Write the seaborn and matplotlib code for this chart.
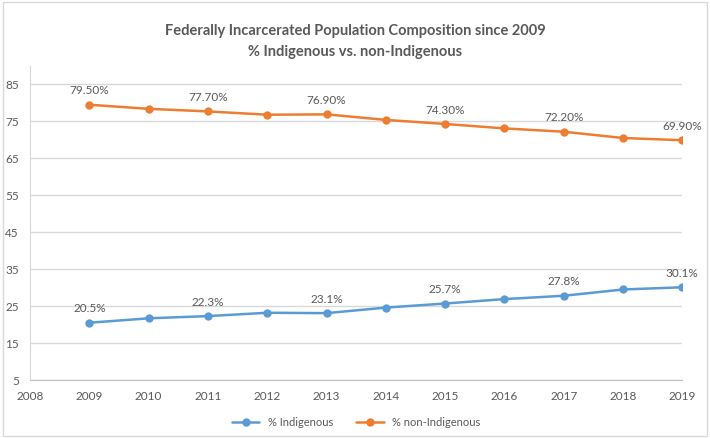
import matplotlib
matplotlib.use('Agg')
import pandas as pd
import matplotlib.pyplot as plt
import seaborn as sns
from matplotlib.patches import Rectangle

# Data
years = [2009, 2010, 2011, 2012, 2013, 2014, 2015, 2016, 2017, 2018, 2019]
indigenous = [20.5, 21.7, 22.3, 23.2, 23.1, 24.6, 25.7, 26.9, 27.8, 29.5, 30.1]
non_indigenous = [79.5, 78.4, 77.7, 76.8, 76.9, 75.4, 74.3, 73.1, 72.2, 70.5, 69.9]
labelled_years = [2009, 2011, 2013, 2015, 2017, 2019]
series_names = ['% Indigenous', '% non-Indigenous']
yticks = [5, 15, 25, 35, 45, 55, 65, 75, 85]

df = pd.concat([
    pd.DataFrame({'year': years, 'value': indigenous, 'series': series_names[0]}),
    pd.DataFrame({'year': years, 'value': non_indigenous, 'series': series_names[1]}),
])

sns.set_style('white')
plt.rcParams['font.family'] = ['Lato', 'DejaVu Sans']
text_col = '#595959'
palette = {series_names[0]: '#5B9BD5', series_names[1]: '#ED7D31'}

fig = plt.figure(figsize=(7.1, 4.38), dpi=100)
ax = fig.add_axes([0.0423, 0.1324, 0.9187, 0.717])

sns.lineplot(data=df, x='year', y='value', hue='series', palette=palette,
             marker='o', markersize=6, markeredgewidth=0, linewidth=1.8, ax=ax)

# data labels on every other year
for yr, v in zip(years, indigenous):
    if yr in labelled_years:
        ax.annotate(f'{v:.1f}%', (yr, v), xytext=(0, 6), textcoords='offset points',
                    ha='center', va='bottom', fontsize=8.5, color=text_col)
for yr, v in zip(years, non_indigenous):
    if yr in labelled_years:
        ax.annotate(f'{v:.2f}%', (yr, v), xytext=(0, 6), textcoords='offset points',
                    ha='center', va='bottom', fontsize=8.5, color=text_col)

ax.set_xlim(2008, 2019)
ax.set_ylim(5, 90)
ax.set_xticks(range(2008, 2020))
ax.set_yticks(yticks)
ax.set_xlabel('')
ax.set_ylabel('')
ax.grid(axis='y', color='#d9d9d9', linewidth=1)
ax.set_axisbelow(True)
for s in ['top', 'right']:
    ax.spines[s].set_visible(False)
ax.spines['left'].set_color('#d9d9d9')
ax.spines['bottom'].set_color('#bfbfbf')
ax.tick_params(axis='x', length=4, color='#bfbfbf', labelsize=8.5, labelcolor=text_col, pad=4)
ax.tick_params(axis='y', length=0, labelsize=8.5, labelcolor=text_col, pad=8)

ax.legend(loc='upper center', bbox_to_anchor=(0.5, -0.085), ncol=2, frameon=False,
          fontsize=8, labelcolor=text_col, handlelength=2.5, columnspacing=2)

fig.text(0.5, 0.945, 'Federally Incarcerated Population Composition since 2009\n% Indigenous vs. non-Indigenous',
         ha='center', va='top', fontsize=10.5, fontweight='bold', color=text_col, linespacing=1.6)

fig.patches.append(Rectangle((0.004, 0.005), 0.992, 0.99, transform=fig.transFigure,
                             fill=False, edgecolor='#d9d9d9', linewidth=1))

fig.savefig('out.png', dpi=100)
